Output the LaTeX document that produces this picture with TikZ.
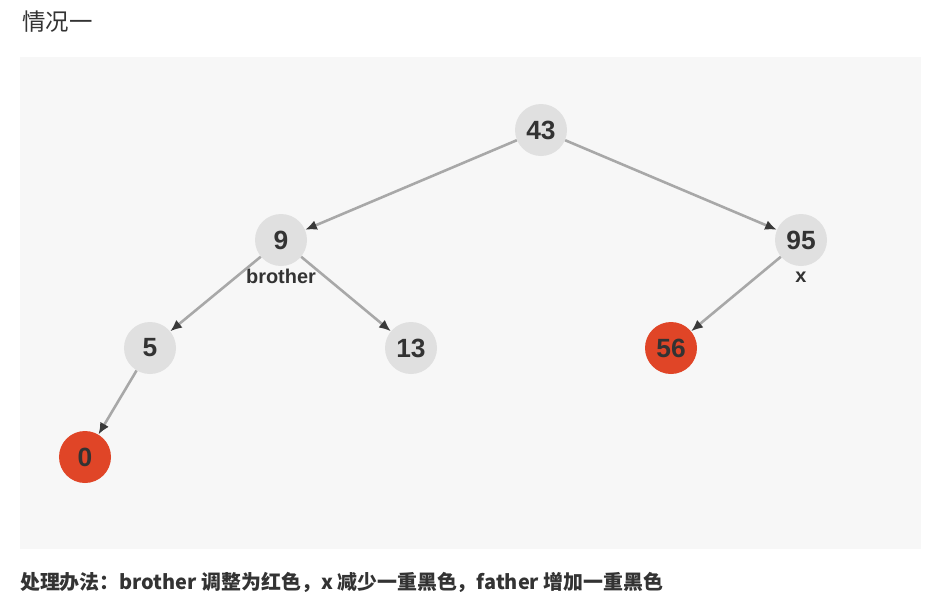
\documentclass[tikz,border=0pt]{standalone}
\usepackage{fontspec}
\setmainfont{Liberation Sans}
\newfontfamily\cjk{Noto Sans CJK SC}
\usetikzlibrary{arrows.meta}
\definecolor{panelgray}{HTML}{F7F7F7}
\definecolor{nodegray}{HTML}{E0E0E0}
\definecolor{nodered}{HTML}{E04527}
\definecolor{edgegray}{HTML}{A8A8A8}
\definecolor{tipgray}{HTML}{3A3A3A}
\definecolor{textgray}{HTML}{333333}
\begin{document}
\begin{tikzpicture}[x=0.03cm, y=-0.03cm,
  bnode/.style={circle, fill=nodegray, minimum size=1.56cm, inner sep=0pt,
    text=textgray, font=\fontsize{22.5}{22.5}\selectfont\bfseries},
  rnode/.style={bnode, fill=nodered},
  tag/.style={text=textgray, font=\fontsize{17}{17}\selectfont\bfseries},
  edge/.style={draw=edgegray, line width=2.2pt, -{Latex[color=tipgray, length=10pt, width=8.5pt]}}]
\useasboundingbox (0,0) rectangle (941,612);
\fill[white] (0,0) rectangle (941,612);
\fill[panelgray] (20,57) rectangle (921,549);
\node[anchor=west, text=textgray, font=\cjk\fontsize{20}{20}\selectfont] (title) at (18,22) {情况一};
\node[bnode] (n43) at (541,130) {43};
\node[bnode] (n9) at (281,240) {9};
\node[bnode] (n95) at (801,240) {95};
\node[bnode] (n5) at (150,348) {5};
\node[bnode] (n13) at (411,348) {13};
\node[rnode] (n56) at (671,348) {56};
\node[rnode] (n0) at (85,457) {0};
\node[tag] (brother) at (281,276) {brother};
\node[tag] (x) at (801,277) {x};
\draw[edge] (n43) -- (n9);
\draw[edge] (n43) -- (n95);
\draw[edge] (n9) -- (n5);
\draw[edge] (n9) -- (n13);
\draw[edge] (n95) -- (n56);
\draw[edge] (n5) -- (n0);
\node[anchor=west, text=textgray, font=\cjk\fontsize{17}{17}\selectfont\bfseries] (method) at (16,582) {处理办法：brother 调整为红色，x 减少一重黑色，father 增加一重黑色};
\end{tikzpicture}
\end{document}
